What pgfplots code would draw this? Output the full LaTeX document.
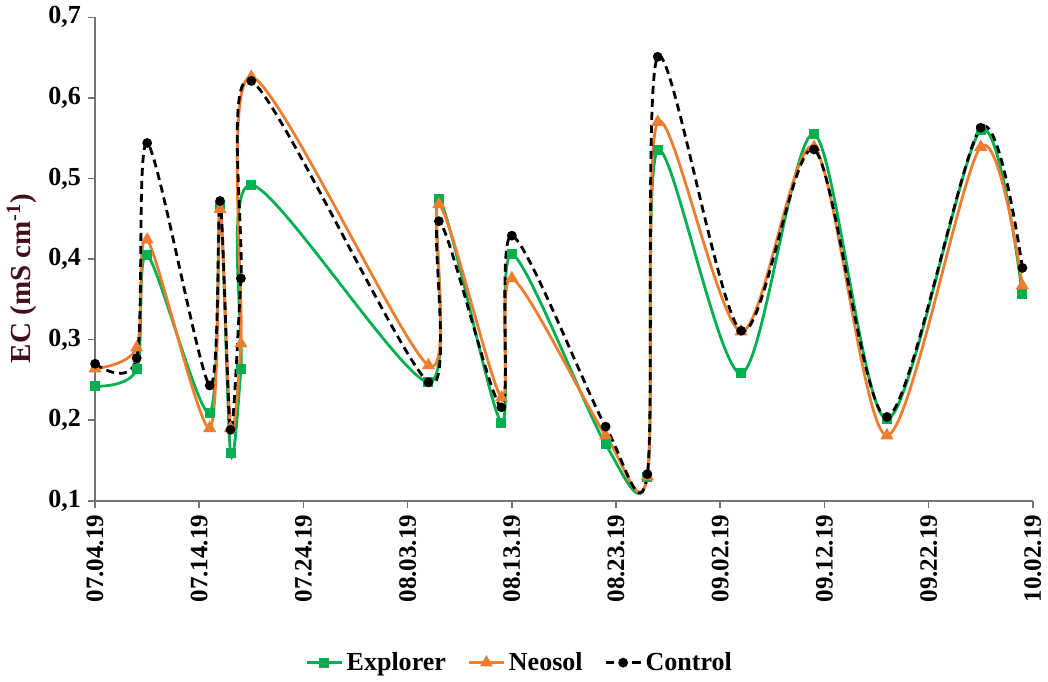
\documentclass[border=0pt]{standalone}
\usepackage{pgfplots}
\pgfplotsset{compat=1.18}
\usepackage{pgfplotstable}
\usepackage{fontspec}
\setmainfont{Liberation Serif}
\definecolor{cgreen}{HTML}{00B050}
\definecolor{corange}{HTML}{ED7D31}
\definecolor{clabel}{HTML}{40101A}
\pgfplotstableread{
day exp neo con
0  0.242 0.264 0.270
4  0.263 0.290 0.277
5  0.405 0.424 0.544
11 0.209 0.190 0.243
12 0.466 0.462 0.472
13 0.159 0.190 0.188
14 0.264 0.295 0.376
15 0.492 0.626 0.621
32 0.247 0.268 0.247
33 0.474 0.468 0.447
39 0.197 0.228 0.216
40 0.406 0.376 0.429
49 0.170 0.181 0.192
53 0.130 0.130 0.133
54 0.535 0.570 0.651
62 0.258 0.310 0.311
69 0.555 0.539 0.536
76 0.201 0.181 0.204
85 0.560 0.539 0.563
89 0.356 0.367 0.389
}\datatable
\begin{document}
\begin{tikzpicture}
\begin{axis}[
  scale only axis,
  width=468.5pt, height=241.5pt,
  xmin=0, xmax=90, ymin=0.1, ymax=0.7,
  axis x line*=bottom, axis y line*=left,
  axis line style={draw=black!55, line width=0.8pt},
  xtick={0,10,...,90},
  xticklabels={07.04.19,07.14.19,07.24.19,08.03.19,08.13.19,08.23.19,09.02.19,09.12.19,09.22.19,10.02.19},
  ytick={0.1,0.2,...,0.71},
  tick align=outside,
  major tick length=3.5pt,
  tick style={draw=black!55, line width=0.8pt},
  x tick label style={rotate=90, anchor=east, font=\bfseries\fontsize{12.5}{13}\selectfont},
  y tick label style={font=\bfseries\fontsize{13}{14}\selectfont},
  /pgf/number format/assume math mode=true,
  /pgf/number format/use comma,
  /pgf/number format/fixed,
  /pgf/number format/precision=1,
  /pgf/number format/fixed zerofill,
  ylabel={\textcolor{clabel}{\bfseries EC (mS cm\textsuperscript{-1})}},
  ylabel style={font=\bfseries\fontsize{14.5}{15}\selectfont, at={(ticklabel cs:0.46)}, yshift=-1pt},
  legend style={at={(0.454,-0.335)}, anchor=center, draw=none, legend columns=3,
    font=\bfseries\fontsize{13}{14}\selectfont,
    /tikz/every even column/.append style={column sep=9pt}},
  legend image code/.code={
    \draw[mark repeat=2,mark phase=2] plot coordinates {(0cm,0cm) (0.3cm,0cm) (0.6cm,0cm)};
  },
  clip=false,
]
\addplot[cgreen, line width=1.4pt, smooth, tension=0.5, mark=square*, mark size=1.8pt, mark options={solid}] table[x=day,y=exp]{\datatable};
\addlegendentry{Explorer}
\addplot[corange, line width=1.4pt, smooth, tension=0.5, mark=triangle*, mark size=2.4pt, mark options={solid}] table[x=day,y=neo]{\datatable};
\addlegendentry{Neosol}
\addplot[black, line width=1.4pt, smooth, tension=0.5, dash pattern=on 4pt off 2.5pt, mark=*, mark size=1.7pt, mark options={solid}] table[x=day,y=con]{\datatable};
\addlegendentry{Control}
\end{axis}
\end{tikzpicture}
\end{document}
